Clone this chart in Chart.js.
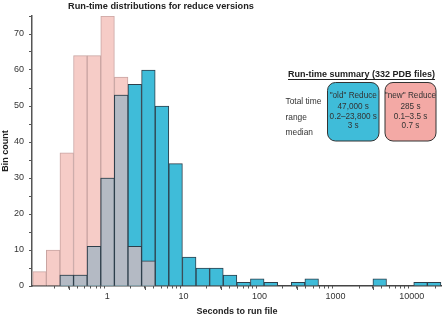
<!DOCTYPE html>
<html>
<head>
<meta charset="utf-8">
<script src="https://cdn.jsdelivr.net/npm/chart.js@4.4.1/dist/chart.umd.min.js"></script>
<style>
  html, body { margin: 0; padding: 0; background: #fff; }
  canvas { display: block; }
</style>
</head>
<body>
<canvas id="runtime_chart" width="442" height="317"></canvas>
<script>
// bin edges in seconds (log spaced)
const binEdges = [0.1047, 0.1580, 0.2385, 0.3600, 0.5434, 0.8204, 1.238, 1.869, 2.821, 4.259,
  6.427, 9.700, 14.64, 22.10, 33.37, 50.35, 76.00, 114.7, 173.2, 261.4,
  394.6, 595.6, 898.9, 1357, 2048, 3090, 4665, 7041, 10627, 16041, 24210];

// counts per bin
const oldCounts = [0, 0, 3, 3, 11, 30, 53, 56, 60, 50, 34, 8, 5, 5, 3, 1, 2, 1, 0, 1,
  2, 0, 0, 0, 0, 2, 0, 0, 1, 1];
const newCounts = [4, 10, 37, 64, 64, 75, 58, 11, 7, 0, 0, 0, 0, 0, 0, 0, 0, 0, 0, 0,
  0, 0, 0, 0, 0, 0, 0, 0, 0, 0];

const xTickValues = [1, 10, 100, 1000, 10000];
const yTickLabels = [0, 10, 20, 30, 40, 50, 60, 70];

// summary box text
const summaryTitle = 'Run-time summary (332 PDB files)';
const summaryRows = ['Total time', 'range', 'median'];
const oldSummary = ['"old" Reduce', '47,000 s', '0.2\u201323,800 s', '3 s'];
const newSummary = ['"new" Reduce', '285 s', '0.1\u20133.5 s', '0.7 s'];

const FONT = '"Liberation Sans", Arial, Helvetica, sans-serif';
const TEXT = '#333';

const centers = binEdges.slice(0, -1).map((e, i) => Math.sqrt(e * binEdges[i + 1]));
const toPoints = arr => arr.map((v, i) => ({ x: centers[i], y: v > 0 ? v : null }));
const overlap = oldCounts.map((v, i) => Math.min(v, newCounts[i]));

// minor log ticks + title + summary box
const extras = {
  id: 'extras',
  afterDraw(chart) {
    const ctx = chart.ctx;
    const xs = chart.scales.x;
    ctx.save();

    // minor ticks on the log axis
    ctx.strokeStyle = '#555';
    ctx.lineWidth = 1;
    for (let p = -1; p <= 4; p++) {
      for (let m = 1; m <= 9; m++) {
        const v = m * Math.pow(10, p);
        if (v < xs.min || v > xs.max || m === 1 && p >= 0) continue;
        const px = Math.round(xs.getPixelForValue(v)) + 0.5;
        ctx.beginPath();
        ctx.moveTo(px, xs.top);
        ctx.lineTo(px, xs.top + 2.5);
        ctx.stroke();
      }
    }

    // title
    ctx.fillStyle = '#222';
    ctx.font = 'bold 9.2px ' + FONT;
    ctx.textAlign = 'center';
    ctx.textBaseline = 'middle';
    ctx.fillText('Run-time distributions for reduce versions', 161, 6);

    // summary title, underlined
    ctx.font = 'bold 9px ' + FONT;
    ctx.textAlign = 'left';
    ctx.fillStyle = '#222';
    ctx.fillText(summaryTitle, 288, 75);
    const w = ctx.measureText(summaryTitle).width;
    ctx.strokeStyle = '#222';
    ctx.beginPath();
    ctx.moveTo(288, 79.5);
    ctx.lineTo(288 + w, 79.5);
    ctx.stroke();

    // row labels
    ctx.font = '8.4px ' + FONT;
    ctx.fillStyle = TEXT;
    const rowY = [101.5, 117.5, 132.5];
    summaryRows.forEach((t, i) => ctx.fillText(t, 285.5, rowY[i]));

    const box = (x0, x1, fill, lines) => {
      const y0 = 82.5, y1 = 141, r = 8;
      ctx.beginPath();
      ctx.moveTo(x0 + r, y0);
      ctx.arcTo(x1, y0, x1, y1, r);
      ctx.arcTo(x1, y1, x0, y1, r);
      ctx.arcTo(x0, y1, x0, y0, r);
      ctx.arcTo(x0, y0, x1, y0, r);
      ctx.closePath();
      ctx.fillStyle = fill;
      ctx.fill();
      ctx.strokeStyle = '#333';
      ctx.lineWidth = 1;
      ctx.stroke();
      ctx.fillStyle = TEXT;
      ctx.font = '8.2px ' + FONT;
      ctx.textAlign = 'center';
      const ly = [96, 106.5, 116.5, 126];
      lines.forEach((t, i) => ctx.fillText(t, (x0 + x1) / 2, ly[i]));
    };
    box(327.5, 379, '#3fbcd9', oldSummary);
    box(385, 436, '#f3a9a5', newSummary);

    ctx.restore();
  }
};

new Chart(document.getElementById('runtime_chart').getContext('2d'), {
  type: 'bar',
  data: {
    datasets: [
      {
        label: 'overlap',
        data: toPoints(overlap),
        backgroundColor: '#b4bac4',
        borderColor: '#2e3f4b',
        borderWidth: 1
      },
      {
        label: '"old" Reduce',
        data: toPoints(oldCounts),
        backgroundColor: '#3fbcd9',
        borderColor: '#2e3f4b',
        borderWidth: 1
      },
      {
        label: '"new" Reduce',
        data: toPoints(newCounts),
        backgroundColor: '#f6ccc7',
        borderColor: '#c9a5a2',
        borderWidth: 1
      }
    ]
  },
  options: {
    responsive: false,
    animation: false,
    events: [],
    grouped: false,
    barPercentage: 1,
    categoryPercentage: 1,
    layout: { padding: { top: 16, right: 0, left: 0, bottom: 0 } },
    plugins: {
      legend: { display: false },
      tooltip: { enabled: false },
      title: { display: false }
    },
    scales: {
      x: {
        type: 'logarithmic',
        min: 0.1024,
        max: 25000,
        offset: false,
        afterBuildTicks: scale => {
          scale.ticks = xTickValues.map(v => ({ value: v, major: true }));
        },
        afterFit: scale => { scale.height = 31; },
        ticks: {
          autoSkip: false,
          maxRotation: 0,
          padding: 1,
          color: TEXT,
          font: { family: FONT, size: 9 },
          callback: v => String(v)
        },
        grid: {
          display: true,
          drawOnChartArea: false,
          drawTicks: true,
          tickLength: 4,
          tickColor: '#555',
          tickWidth: 1
        },
        border: { display: true, color: '#444', width: 1.5 },
        title: {
          display: true,
          text: 'Seconds to run file',
          color: '#222',
          font: { family: FONT, size: 9, weight: 'bold' },
          padding: { top: 0, bottom: 0 }
        }
      },
      y: {
        min: 0,
        max: 75,
        afterBuildTicks: scale => {
          const t = [];
          for (let v = 0; v <= 75; v += 5) t.push({ value: v });
          scale.ticks = t;
        },
        afterFit: scale => { scale.width = 32; },
        ticks: {
          padding: 5,
          color: TEXT,
          font: { family: FONT, size: 9 },
          callback: v => yTickLabels.includes(v) ? String(v) : ''
        },
        grid: {
          display: true,
          drawOnChartArea: false,
          drawTicks: true,
          tickLength: 3,
          tickColor: '#555',
          tickWidth: 1
        },
        border: { display: true, color: '#555', width: 1.5 },
        title: {
          display: true,
          text: 'Bin count',
          color: '#222',
          font: { family: FONT, size: 9, weight: 'bold' },
          padding: { top: 0, bottom: 0 }
        }
      }
    }
  },
  plugins: [extras]
});
</script>
</body>
</html>
